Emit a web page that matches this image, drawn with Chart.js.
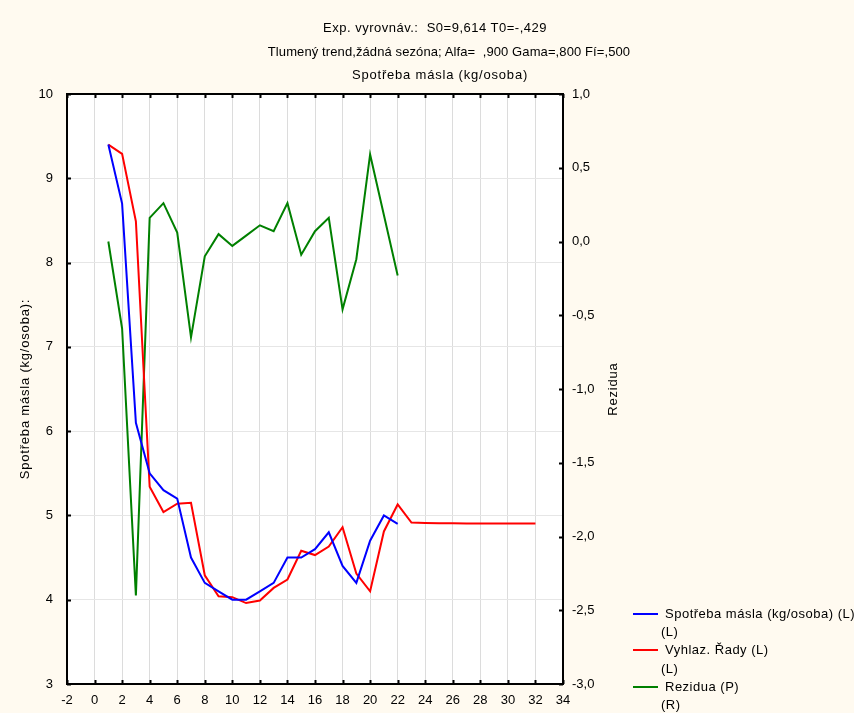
<!DOCTYPE html>
<html>
<head>
<meta charset="utf-8">
<script src="https://cdn.jsdelivr.net/npm/chart.js@4.4.1/dist/chart.umd.min.js"></script>
<style>
  html, body { margin: 0; padding: 0; background: #fff; overflow: hidden; }
  #wrap { position: relative; width: 854px; height: 713px; background: #fffaf0; font-family: "Liberation Sans", Arial, sans-serif; color: #000; overflow: hidden; }
  #wrap canvas { position: absolute; left: 0; top: 0; }
  #title { position: absolute; left: 0; top: 16px; width: 880px; text-align: center; font-size: 13px; line-height: 23.5px; white-space: pre; }
  #title div:nth-child(1) { letter-spacing: 0.5px; margin-left: -10px; }
  #title div:nth-child(2) { letter-spacing: 0.1px; margin-left: 18px; }
  #title div:nth-child(3) { letter-spacing: 0.8px; }
  #legend { position: absolute; left: 633px; top: 605px; font-size: 13px; letter-spacing: 0.5px; line-height: 18.2px; white-space: pre; }
  .row { position: relative; padding-left: 32px; }
  .row .ln { position: absolute; left: 0; top: 8px; width: 25px; height: 2px; }
  .sub { padding-left: 28px; }
</style>
</head>
<body>
<div id="wrap">
  <canvas id="chart" width="854" height="713"></canvas>
  <div id="title"></div>
  <div id="legend"></div>
</div>
<script>
// popisky
const titleLines = [
    'Exp. vyrovnáv.:  S0=9,614 T0=-,429',
    'Tlumený trend,žádná sezóna; Alfa=  ,900 Gama=,800 Fí=,500',
    'Spotřeba másla (kg/osoba)'
];
const leftTitle = 'Spotřeba másla (kg/osoba):';
const rightTitle = 'Rezidua';

// data - roky 1..22 (pozorování), vyhlazená řada s předpovědí až do 32
const spotrebaX = [1, 2, 3, 4, 5, 6, 7, 8, 9, 10, 11, 12, 13, 14, 15, 16, 17, 18, 19, 20, 21, 22];
const spotreba = [9.4, 8.7, 6.1, 5.5, 5.3, 5.2, 4.5, 4.2, 4.1, 4.0, 4.0, 4.1, 4.2, 4.5, 4.5, 4.6, 4.8, 4.4, 4.2, 4.7, 5.0, 4.9];

const vyhlazX = [1, 2, 3, 4, 5, 6, 7, 8, 9, 10, 11, 12, 13, 14, 15, 16, 17, 18, 19, 20, 21, 22, 23, 24, 25, 26, 27, 28, 29, 30, 31, 32];
const vyhlaz = [9.4, 9.29, 8.49, 5.34, 5.04, 5.14, 5.15, 4.29, 4.04, 4.03, 3.96, 3.99, 4.14, 4.24, 4.58, 4.53, 4.63, 4.86, 4.31, 4.10, 4.81, 5.13,
                4.915, 4.91, 4.907, 4.906, 4.905, 4.905, 4.905, 4.905, 4.905, 4.905];

const reziduaX = [1, 2, 3, 4, 5, 6, 7, 8, 9, 10, 11, 12, 13, 14, 15, 16, 17, 18, 19, 20, 21, 22];
const rezidua = [0.0, -0.59, -2.4, 0.16, 0.26, 0.06, -0.65, -0.1, 0.05, -0.03, 0.04, 0.11, 0.07, 0.26, -0.09, 0.07, 0.16, -0.46, -0.12, 0.59, 0.18, -0.23];

// osy
const xMin = -2, xMax = 34, xStep = 2;
const yMin = 3, yMax = 10, yStep = 1;
const y1Min = -3, y1Max = 1, y1Step = 0.5;

const legendItems = [
    { text: 'Spotřeba másla (kg/osoba) (L)', sub: '(L)', color: '#0000ff' },
    { text: 'Vyhlaz. Řady (L)', sub: '(L)', color: '#ff0000' },
    { text: 'Rezidua (P)', sub: '(R)', color: '#008000' }
];

const FONT = '"Liberation Sans", Arial, sans-serif';

const titleEl = document.getElementById('title');
titleLines.forEach(t => {
    const d = document.createElement('div');
    d.textContent = t;
    titleEl.appendChild(d);
});
const legendEl = document.getElementById('legend');
legendItems.forEach(it => {
    const row = document.createElement('div');
    row.className = 'row';
    row.innerHTML = '<span class="ln" style="background:' + it.color + '"></span>' + it.text;
    legendEl.appendChild(row);
    const sub = document.createElement('div');
    sub.className = 'sub';
    sub.textContent = it.sub;
    legendEl.appendChild(sub);
});

function pts(xs, ys) {
    return xs.map((x, i) => ({ x: x, y: ys[i] }));
}

// ramecek, kratke vnitrni znacky a popisky os
const framePlugin = {
    id: 'frame',
    beforeDraw(chart) {
        const a = chart.chartArea, c = chart.ctx;
        c.save();
        c.fillStyle = '#ffffff';
        c.fillRect(a.left, a.top, a.right - a.left, a.bottom - a.top);
        c.restore();
    },
    afterDraw(chart) {
        const a = chart.chartArea, c = chart.ctx;
        const sx = chart.scales.x, sy = chart.scales.y, sy1 = chart.scales.y1;
        c.save();
        c.strokeStyle = '#000';
        c.lineWidth = 2;
        c.beginPath();
        sx.ticks.forEach(t => {
            const px = Math.round(sx.getPixelForValue(t.value)) + 0.5;
            c.moveTo(px, a.bottom); c.lineTo(px, a.bottom - 4);
            c.moveTo(px, a.top); c.lineTo(px, a.top + 4);
        });
        sy.ticks.forEach(t => {
            const py = Math.round(sy.getPixelForValue(t.value)) + 0.5;
            c.moveTo(a.left, py); c.lineTo(a.left + 4, py);
        });
        sy1.ticks.forEach(t => {
            const py = Math.round(sy1.getPixelForValue(t.value)) + 0.5;
            c.moveTo(a.right, py); c.lineTo(a.right - 4, py);
        });
        c.stroke();
        c.strokeRect(a.left, a.top, a.right - a.left, a.bottom - a.top);

        c.fillStyle = '#000';
        c.font = '13px ' + FONT;
        c.letterSpacing = '0.8px';
        c.textAlign = 'center';
        c.textBaseline = 'middle';
        const midY = (a.top + a.bottom) / 2;
        c.translate(25, midY);
        c.rotate(-Math.PI / 2);
        c.fillText(leftTitle, 0, 0);
        c.setTransform(1, 0, 0, 1, 0, 0);
        c.translate(613, midY);
        c.rotate(-Math.PI / 2);
        c.fillText(rightTitle, 0, 0);
        c.restore();
    }
};

const fmt = v => v.toFixed(1).replace('.', ',');

const config = {
    type: 'line',
    data: {
        datasets: [
            {
                label: legendItems[0].text,
                data: pts(spotrebaX, spotreba),
                borderColor: '#0000ff',
                borderWidth: 2,
                pointRadius: 0,
                fill: false,
                yAxisID: 'y'
            },
            {
                label: legendItems[1].text,
                data: pts(vyhlazX, vyhlaz),
                borderColor: '#ff0000',
                borderWidth: 2,
                pointRadius: 0,
                fill: false,
                yAxisID: 'y'
            },
            {
                label: legendItems[2].text,
                data: pts(reziduaX, rezidua),
                borderColor: '#008000',
                borderWidth: 2,
                pointRadius: 0,
                fill: false,
                yAxisID: 'y1'
            }
        ]
    },
    options: {
        responsive: false,
        devicePixelRatio: 1,
        animation: false,
        layout: { padding: { top: 94, right: 235, bottom: 0, left: 0 } },
        plugins: {
            legend: { display: false },
            title: { display: false },
            tooltip: { enabled: false }
        },
        scales: {
            x: {
                type: 'linear',
                min: xMin,
                max: xMax,
                ticks: { stepSize: xStep, color: '#000', font: { family: FONT, size: 13 }, padding: 9, maxRotation: 0 },
                grid: { color: '#dcdcdc', drawTicks: false },
                border: { display: false },
                afterFit(s) { s.height = 29; }
            },
            y: {
                position: 'left',
                min: yMin,
                max: yMax,
                ticks: { stepSize: yStep, color: '#000', font: { family: FONT, size: 13 }, padding: 14 },
                grid: { color: '#e6e6e6', drawTicks: false },
                border: { display: false },
                afterFit(s) { s.width = 67; }
            },
            y1: {
                position: 'right',
                min: y1Min,
                max: y1Max,
                ticks: { stepSize: y1Step, color: '#000', font: { family: FONT, size: 13 }, padding: 9, callback: v => fmt(v) },
                grid: { display: false, drawTicks: false },
                border: { display: false },
                afterFit(s) { s.width = 56; }
            }
        }
    },
    plugins: [framePlugin]
};

new Chart(document.getElementById('chart').getContext('2d'), config);
</script>
</body>
</html>
